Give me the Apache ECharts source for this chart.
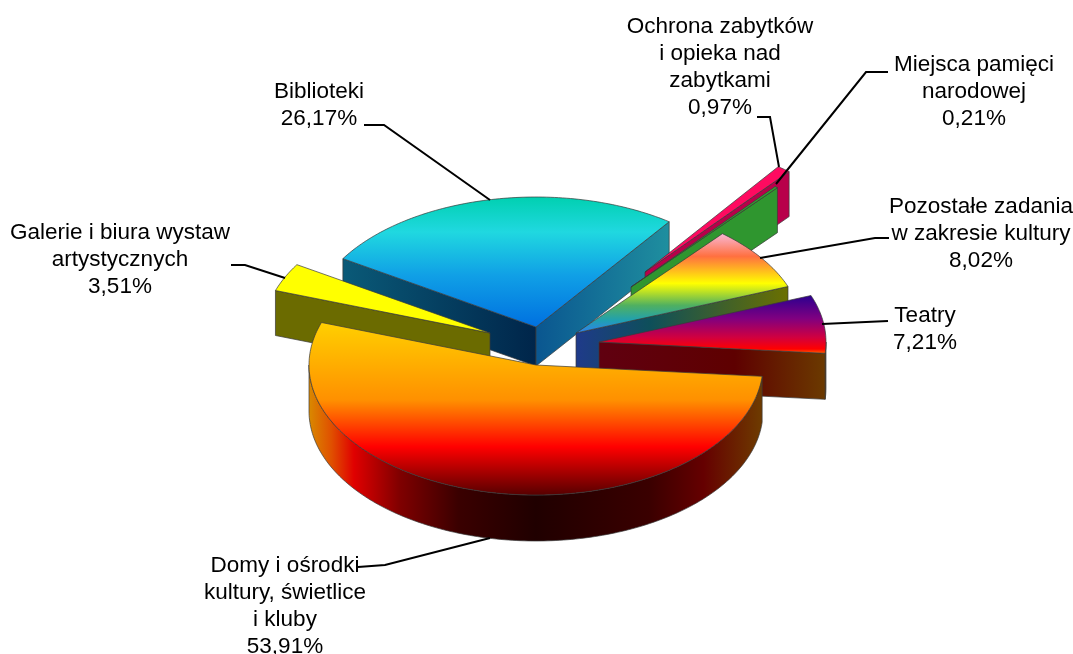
<!DOCTYPE html>
<html><head><meta charset="utf-8">
<style>html,body{margin:0;padding:0;background:#fff}#c{width:1073px;height:654px}</style>
<script src="https://cdn.jsdelivr.net/npm/echarts@6/dist/echarts.min.js"></script>
</head><body><div id="c"></div>
<script>
// ---- data ----
const sliceNames = [
  "Domy i ośrodki\nkultury, świetlice\ni kluby",
  "Galerie i biura wystaw\nartystycznych",
  "Biblioteki",
  "Ochrona zabytków\ni opieka nad\nzabytkami",
  "Miejsca pamięci\nnarodowej",
  "Pozostałe zadania\nw zakresie kultury",
  "Teatry"
];
const sliceValues = [53.91, 3.51, 26.17, 0.97, 0.21, 8.02, 7.21];

// ---- layout ----
const startAngle = 5, rx = 227, ry = 130;
const apexes = [[536,365],[490,333],[536,327],[645,272],[631,287],[576,333],[599,342]];
const depths = [46,45,39,45,45,40,46];
const paintRank = [6,5,0,1,2,3,4];
const labelPos = [[285,552],[120,219],[319,78],[720,13],[974,51],[981,193],[925,302]];
const leaders = [
  [[358,567],[385,565],[490,538]],
  [[231,265],[245,265],[285,278]],
  [[364,125],[384,125],[490,200]],
  [[757,117],[770,117],[779,167]],
  [[888,72],[866,72],[776,184]],
  [[889,238],[875,238],[760,258]],
  [[888,321],[822,324]]
];

// ---- colours ----
const grad = (stops, horizontal) => ({
  type:'linear', x:0, y:0, x2:horizontal?1:0, y2:horizontal?0:1,
  colorStops: stops.map(s => ({offset:s[0], color:s[1]}))
});
const topFills = [
  [[0,'#ffd000'],[.45,'#ff9000'],[.72,'#ff0000'],[1,'#560000']],
  [[0,'#ffff00'],[1,'#ffff00']],
  [[0,'#00d0b0'],[.27,'#20d8e0'],[.6,'#10a0e6'],[1,'#0070e0']],
  [[0,'#ff0a60'],[1,'#ff0a60']],
  [[0,'#30a030'],[1,'#30a030']],
  [[0,'#f8b8d8'],[.23,'#ff7040'],[.5,'#ffff00'],[.72,'#50b060'],[.87,'#20a0b0'],[1,'#3080f0']],
  [[0,'#2a0090'],[.4,'#800080'],[.72,'#d00040'],[.92,'#ff0000'],[1,'#ff6a00']]
];
const arcFills = [
  [[0,'#d98a00'],[.05,'#e05000'],[.1,'#e00000'],[.2,'#800000'],[.33,'#3a0000'],[.5,'#200000'],[.75,'#3a0000'],[.87,'#650000'],[1,'#6e3c00']],
  null,null,null,null,null,
  [[0,'#6b3400'],[1,'#6b3400']]
];
const startEdgeFills = [null,[[0,'#6b6b00'],[1,'#6b6b00']],[[0,'#0a5a78'],[1,'#00254a']],null,null,null,null];
const endEdgeFills = [null,null,[[0,'#0a5690'],[1,'#1f8f9f']],[[0,'#b8004a'],[1,'#b8004a']],[[0,'#2f962f'],[1,'#2f962f']],
  [[0,'#1f3a8a'],[.35,'#0e4f5a'],[1,'#6b7000']],[[0,'#600010'],[.6,'#5e0000'],[1,'#6b3a00']]];

const total = sliceValues.reduce((a,b)=>a+b,0);
const angles = [];
sliceValues.reduce((acc,v)=>{ const a=acc, b=acc+v/total*360; angles.push([a,b]); return b; }, startAngle);

function pt(i,t,d){
  const r=t*Math.PI/180;
  return [apexes[i][0]+rx*Math.cos(r), apexes[i][1]+ry*Math.sin(r)+(d||0)];
}
const edge = '#3a3a3a';
function face(points, fill, z2){
  return {type:'polygon', z2, shape:{points}, style:{fill, stroke:edge, lineWidth:0.7, opacity:1}, silent:true};
}
function renderItem(params, api){
  const i = params.dataIndex, [a,b] = angles[i], d = depths[i], z = paintRank[i]*10, ch = [];
  const ap = apexes[i], apB=[ap[0],ap[1]+d];
  const ranges=[[a,b],[a-360,b-360]].map(([p,q])=>[Math.max(p,0),Math.min(q,180)]).filter(([p,q])=>q>p);
  if(arcFills[i]) ranges.forEach(([p,q])=>{
    const up=[],dn=[];
    for(let t=p;;t+=1){const tt=Math.min(t,q);up.push(pt(i,tt));dn.unshift(pt(i,tt,d));if(tt>=q)break;}
    ch.push(face(up.concat(dn),grad(arcFills[i],true),z+1));
  });
  if(startEdgeFills[i]) ch.push(face([ap,pt(i,a),pt(i,a,d),apB],grad(startEdgeFills[i],true),z+2));
  if(endEdgeFills[i]) ch.push(face([ap,pt(i,b),pt(i,b,d),apB],grad(endEdgeFills[i],true),z+2));
  const top=[ap];
  for(let t=a;;t+=1){const tt=Math.min(t,b);top.push(pt(i,tt));if(tt>=b)break;}
  ch.push(face(top,grad(topFills[i],false),z+3));
  ch.push({type:'polyline',z2:200,shape:{points:leaders[i]},style:{fill:'none',stroke:'#000',lineWidth:2},silent:true});
  const pct = api.value(0).toFixed(2).replace('.',',')+'%';
  ch.push({type:'text',z2:201,silent:true,style:{
    text:sliceNames[i]+'\n'+pct, x:labelPos[i][0], y:labelPos[i][1],
    align:'center', verticalAlign:'top', fill:'#000', lineHeight:27,
    font:'22.5px "Liberation Sans", Arial, sans-serif'
  }});
  return {type:'group',children:ch};
}
const chart = echarts.init(document.getElementById('c'),null,{renderer:'canvas'});
chart.setOption({
  animation:false,
  backgroundColor:'#fff',
  series:[{type:'custom',coordinateSystem:'none',renderItem,silent:true,clip:false,
    data:sliceValues.map(v=>[v])}]
});
</script></body></html>
